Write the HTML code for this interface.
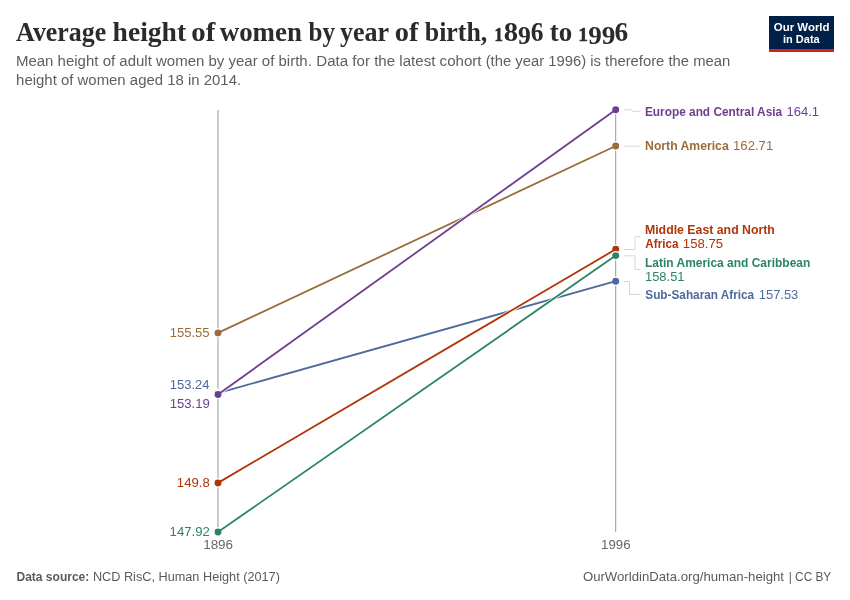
<!DOCTYPE html>
<html><head><meta charset="utf-8"><title>Average height of women by year of birth, 1896 to 1996</title>
<style>
html,body{margin:0;padding:0;background:#fff;}
svg{display:block;font-family:"Liberation Sans",sans-serif;}
.t{font-family:"Liberation Serif","DejaVu Serif",serif;font-weight:bold;}
.b{font-weight:bold;}
</style></head><body>
<svg width="850" height="600" viewBox="0 0 850 600">
<rect width="850" height="600" fill="#fff"/>
<text><tspan id="tw0" class="t" x="16.08" y="40.7" font-size="28" fill="#2b2b2b" textLength="90.24" lengthAdjust="spacingAndGlyphs">Average</tspan> <tspan id="tw1" class="t" x="112.60" y="40.7" font-size="28" fill="#2b2b2b" textLength="73.55" lengthAdjust="spacingAndGlyphs">height</tspan> <tspan id="tw2" class="t" x="191.27" y="40.7" font-size="28" fill="#2b2b2b" textLength="24.00" lengthAdjust="spacingAndGlyphs">of</tspan> <tspan id="tw3" class="t" x="219.72" y="40.7" font-size="28" fill="#2b2b2b" textLength="82.15" lengthAdjust="spacingAndGlyphs">women</tspan> <tspan id="tw4" class="t" x="308.61" y="40.7" font-size="28" fill="#2b2b2b" textLength="26.47" lengthAdjust="spacingAndGlyphs">by</tspan> <tspan id="tw5" class="t" x="340.02" y="40.7" font-size="28" fill="#2b2b2b" textLength="49.08" lengthAdjust="spacingAndGlyphs">year</tspan> <tspan id="tw6" class="t" x="394.85" y="40.7" font-size="28" fill="#2b2b2b" textLength="23.69" lengthAdjust="spacingAndGlyphs">of</tspan> <tspan id="tw7" class="t" x="424.76" y="40.7" font-size="28" fill="#2b2b2b" textLength="62.53" lengthAdjust="spacingAndGlyphs">birth,</tspan> <tspan id="tw8" class="t" stroke="#2b2b2b" stroke-width="0.7" x="494.52" y="40.7" font-size="19.5" fill="#2b2b2b" textLength="8.40" lengthAdjust="spacingAndGlyphs">1</tspan><tspan id="tw9" class="t" x="503.70" y="40.7" font-size="27" fill="#2b2b2b" textLength="14.34" lengthAdjust="spacingAndGlyphs">8</tspan><tspan id="tw10" class="t" x="518.06" y="44.3" font-size="25" fill="#2b2b2b" textLength="12.80" lengthAdjust="spacingAndGlyphs">9</tspan><tspan id="tw11" class="t" x="530.86" y="40.7" font-size="27" fill="#2b2b2b" textLength="12.73" lengthAdjust="spacingAndGlyphs">6</tspan> <tspan id="tw12" class="t" x="549.76" y="40.7" font-size="28" fill="#2b2b2b" textLength="22.45" lengthAdjust="spacingAndGlyphs">to</tspan> <tspan id="tw13" class="t" stroke="#2b2b2b" stroke-width="0.7" x="578.40" y="40.7" font-size="19.5" fill="#2b2b2b" textLength="9.32" lengthAdjust="spacingAndGlyphs">1</tspan><tspan id="tw14" class="t" x="588.34" y="44.3" font-size="25" fill="#2b2b2b" textLength="13.53" lengthAdjust="spacingAndGlyphs">9</tspan><tspan id="tw15" class="t" x="601.67" y="44.3" font-size="25" fill="#2b2b2b" textLength="13.58" lengthAdjust="spacingAndGlyphs">9</tspan><tspan id="tw16" class="t" x="614.64" y="40.7" font-size="27" fill="#2b2b2b" textLength="13.69" lengthAdjust="spacingAndGlyphs">6</tspan></text>
<text><tspan id="s1a" x="15.94" y="66.35" font-size="14" fill="#5e5e5e" textLength="295.89" lengthAdjust="spacingAndGlyphs">Mean height of adult women by year of birth.</tspan> <tspan id="s1b" x="316.29" y="66.35" font-size="14" fill="#5e5e5e" textLength="165.27" lengthAdjust="spacingAndGlyphs">Data for the latest cohort</tspan> <tspan id="s1c" x="485.70" y="66.35" font-size="14" fill="#5e5e5e" textLength="244.56" lengthAdjust="spacingAndGlyphs">(the year 1996) is therefore the mean</tspan></text>
<text><tspan id="s2" x="16.10" y="84.55" font-size="14" fill="#5e5e5e" textLength="225.01" lengthAdjust="spacingAndGlyphs">height of women aged 18 in 2014.</tspan></text>
<rect x="769" y="16" width="65" height="36" fill="#002147"/>
<rect x="769" y="49" width="65" height="3" fill="#ce261e"/>
<text><tspan id="lg1" class="b" x="773.84" y="30.5" font-size="11.5" fill="#fff" textLength="55.71" lengthAdjust="spacingAndGlyphs">Our World</tspan></text>
<text><tspan id="lg2" class="b" x="783.01" y="42.5" font-size="11.5" fill="#fff" textLength="36.71" lengthAdjust="spacingAndGlyphs">in Data</tspan></text>
<line x1="218.0" y1="110" x2="218.0" y2="532" stroke="#999" stroke-width="1"/>
<line x1="615.7" y1="110" x2="615.7" y2="532" stroke="#999" stroke-width="1"/>
<text><tspan id="x1" x="203.16" y="548.9" font-size="12.3" fill="#666" textLength="29.90" lengthAdjust="spacingAndGlyphs">1896</tspan></text>
<text><tspan id="x2" x="601.09" y="549.3" font-size="12.3" fill="#666" textLength="29.43" lengthAdjust="spacingAndGlyphs">1996</tspan></text>
<g fill="none">
<g stroke="#fff" fill="#fff" stroke-width="3.4"><line x1="218.0" y1="332.9" x2="615.7" y2="146.0"/><circle cx="218.0" cy="332.9" r="3"/><circle cx="615.7" cy="146.0" r="3"/></g>
<g stroke="#996D39" fill="#996D39" stroke-width="1.8"><line x1="218.0" y1="332.9" x2="615.7" y2="146.0"/><circle cx="218.0" cy="332.9" r="3.45" stroke="none"/><circle cx="615.7" cy="146.0" r="3.45" stroke="none"/></g>
<g stroke="#fff" fill="#fff" stroke-width="3.4"><line x1="218.0" y1="393.1" x2="615.7" y2="281.2"/><circle cx="218.0" cy="393.1" r="3"/><circle cx="615.7" cy="281.2" r="3"/></g>
<g stroke="#4C6A9C" fill="#4C6A9C" stroke-width="1.8"><line x1="218.0" y1="393.1" x2="615.7" y2="281.2"/><circle cx="218.0" cy="393.1" r="3.45" stroke="none"/><circle cx="615.7" cy="281.2" r="3.45" stroke="none"/></g>
<g stroke="#fff" fill="#fff" stroke-width="3.4"><line x1="218.0" y1="482.9" x2="615.7" y2="249.3"/><circle cx="218.0" cy="482.9" r="3"/><circle cx="615.7" cy="249.3" r="3"/></g>
<g stroke="#B13507" fill="#B13507" stroke-width="1.8"><line x1="218.0" y1="482.9" x2="615.7" y2="249.3"/><circle cx="218.0" cy="482.9" r="3.45" stroke="none"/><circle cx="615.7" cy="249.3" r="3.45" stroke="none"/></g>
<g stroke="#fff" fill="#fff" stroke-width="3.4"><line x1="218.0" y1="532.0" x2="615.7" y2="255.6"/><circle cx="218.0" cy="532.0" r="3"/><circle cx="615.7" cy="255.6" r="3"/></g>
<g stroke="#2C8465" fill="#2C8465" stroke-width="1.8"><line x1="218.0" y1="532.0" x2="615.7" y2="255.6"/><circle cx="218.0" cy="532.0" r="3.45" stroke="none"/><circle cx="615.7" cy="255.6" r="3.45" stroke="none"/></g>
<g stroke="#fff" fill="#fff" stroke-width="3.4"><line x1="218.0" y1="394.5" x2="615.7" y2="109.7"/><circle cx="218.0" cy="394.5" r="3"/><circle cx="615.7" cy="109.7" r="3"/></g>
<g stroke="#6D3E91" fill="#6D3E91" stroke-width="1.8"><line x1="218.0" y1="394.5" x2="615.7" y2="109.7"/><circle cx="218.0" cy="394.5" r="3.45" stroke="none"/><circle cx="615.7" cy="109.7" r="3.45" stroke="none"/></g>
</g>
<text><tspan id="lna" x="169.71" y="337.3" font-size="12.3" fill="#996D39" textLength="39.94" lengthAdjust="spacingAndGlyphs">155.55</tspan></text>
<text><tspan id="laf" x="169.72" y="389.2" font-size="12.3" fill="#4C6A9C" textLength="39.84" lengthAdjust="spacingAndGlyphs">153.24</tspan></text>
<text><tspan id="leu" x="169.68" y="407.5" font-size="12.3" fill="#6D3E91" textLength="40.11" lengthAdjust="spacingAndGlyphs">153.19</tspan></text>
<text><tspan id="lme" x="176.84" y="487.2" font-size="12.3" fill="#B13507" textLength="32.87" lengthAdjust="spacingAndGlyphs">149.8</tspan></text>
<text><tspan id="lla" x="169.60" y="535.8" font-size="12.3" fill="#2C8465" textLength="40.32" lengthAdjust="spacingAndGlyphs">147.92</tspan></text>
<g stroke="#d6d6d6" stroke-width="1" fill="none">
<path d="M624 109.8H632V111.3H640.5"/>
<path d="M624 146.2H640.5"/>
<path d="M624 249.5H635V236.6H640.5"/>
<path d="M624 255.8H635V269.5H640.5"/>
<path d="M624 281.5H629.5V294.5H640.5"/>
</g>
<text><tspan id="r1a" class="b" x="644.95" y="115.7" font-size="12.2" fill="#6D3E91" textLength="137.17" lengthAdjust="spacingAndGlyphs">Europe and Central Asia</tspan> <tspan id="r1b" x="786.49" y="115.7" font-size="12.2" fill="#6D3E91" textLength="32.54" lengthAdjust="spacingAndGlyphs">164.1</tspan></text>
<text><tspan id="r2a" class="b" x="645.08" y="150.1" font-size="12.2" fill="#996D39" textLength="83.60" lengthAdjust="spacingAndGlyphs">North America</tspan> <tspan id="r2b" x="733.07" y="150.1" font-size="12.2" fill="#996D39" textLength="40.17" lengthAdjust="spacingAndGlyphs">162.71</tspan></text>
<text><tspan id="r3a" class="b" x="644.95" y="234" font-size="12.2" fill="#B13507" textLength="129.96" lengthAdjust="spacingAndGlyphs">Middle East and North</tspan></text>
<text><tspan id="r3b" class="b" x="645.37" y="248.2" font-size="12.2" fill="#B13507" textLength="33.03" lengthAdjust="spacingAndGlyphs">Africa</tspan> <tspan id="r3c" x="682.89" y="248.2" font-size="12.2" fill="#B13507" textLength="40.22" lengthAdjust="spacingAndGlyphs">158.75</tspan></text>
<text><tspan id="r4a" class="b" x="645.02" y="266.8" font-size="12.2" fill="#2C8465" textLength="165.25" lengthAdjust="spacingAndGlyphs">Latin America and Caribbean</tspan></text>
<text><tspan id="r4b" x="645.00" y="280.8" font-size="12.2" fill="#2C8465" textLength="39.52" lengthAdjust="spacingAndGlyphs">158.51</tspan></text>
<text><tspan id="r5a" class="b" x="645.33" y="298.9" font-size="12.2" fill="#4C6A9C" textLength="108.83" lengthAdjust="spacingAndGlyphs">Sub-Saharan Africa</tspan> <tspan id="r5b" x="758.77" y="298.9" font-size="12.2" fill="#4C6A9C" textLength="39.50" lengthAdjust="spacingAndGlyphs">157.53</tspan></text>
<text><tspan id="f1a" class="b" x="16.44" y="581.1" font-size="13" fill="#5b5b5b" textLength="72.88" lengthAdjust="spacingAndGlyphs">Data source:</tspan> <tspan id="f1b" x="92.91" y="581.1" font-size="13" fill="#5b5b5b" textLength="186.98" lengthAdjust="spacingAndGlyphs">NCD RisC, Human Height (2017)</tspan></text>
<text><tspan id="f2a" x="582.91" y="581" font-size="13" fill="#5b5b5b" textLength="201.04" lengthAdjust="spacingAndGlyphs">OurWorldinData.org/human-height</tspan> <tspan id="f2b" x="788.76" y="581" font-size="13" fill="#5b5b5b" textLength="42.48" lengthAdjust="spacingAndGlyphs">| CC BY</tspan></text>
</svg>
</body></html>
